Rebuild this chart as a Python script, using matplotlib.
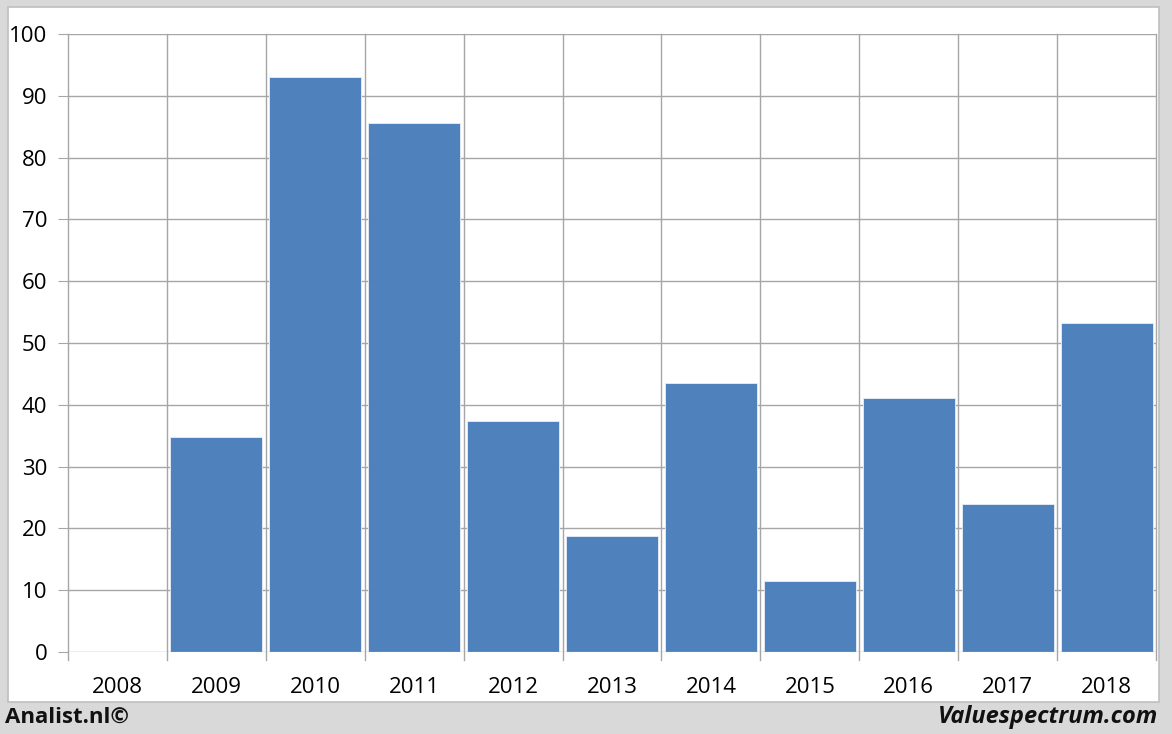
import matplotlib
matplotlib.use("Agg")
import matplotlib.pyplot as plt
from matplotlib.patches import Rectangle
import numpy as np

years = ["2008", "2009", "2010", "2011", "2012", "2013", "2014", "2015", "2016", "2017", "2018"]
values = [0, 34.8, 93.0, 85.6, 37.4, 18.8, 43.5, 11.5, 41.1, 23.9, 53.2]
yticks = [0, 10, 20, 30, 40, 50, 60, 70, 80, 90, 100]

W, H = 1172, 734
fig = plt.figure(figsize=(W / 100, H / 100), dpi=100)
fig.patch.set_facecolor("#D9D9D9")
plt.rcParams['font.family'] = ['Open Sans', 'DejaVu Sans']

# white panel
fig.patches.append(Rectangle((8 / W, 1 - 702 / H), (1159 - 8) / W, (702 - 7) / H,
                             transform=fig.transFigure, facecolor="white",
                             edgecolor="#BFBFBF", linewidth=1.2, zorder=-10))

left, right, top, bottom = 68, 1156, 34, 652
ax = fig.add_axes([left / W, 1 - bottom / H, (right - left) / W, (bottom - top) / H])
ax.set_facecolor("none")
ax.set_zorder(1)

x = np.arange(len(years))
ax.bar(x, values, width=0.93, color="#4F81BD", edgecolor="#E8EEF7", linewidth=0.6, zorder=3)

ax.set_xlim(-0.5, len(years) - 0.5)
ax.set_ylim(0, 100)
ax.set_yticks(yticks)
ax.set_yticklabels([str(v) for v in yticks], fontsize=16)
ax.set_xticks(x)
ax.set_xticklabels(years, fontsize=16)
ax.tick_params(axis='x', length=0, pad=18)
ax.tick_params(axis='y', length=7, color="#A6A6A6", pad=8)

# horizontal gridlines
for v in yticks:
    ax.axhline(v, color="#A6A6A6", linewidth=1.0, zorder=4 if v == 0 else 1)
# vertical category boundaries
bounds = np.arange(len(years) + 1) - 0.5
for b in bounds:
    ax.plot([b, b], [-1.3, 100], color="#A6A6A6", linewidth=1.0, zorder=1, clip_on=False)

for s in ax.spines.values():
    s.set_visible(False)

fig.text(5 / W, 1 - 717 / H, "Analist.nl©", fontsize=16, fontweight="bold",
         ha="left", va="center", color="#111111")
fig.text(1158 / W, 1 - 717 / H, "Valuespectrum.com", fontsize=17, fontweight="bold",
         fontstyle="italic", ha="right", va="center", color="#111111")

fig.savefig("out.png", dpi=100, facecolor=fig.get_facecolor())
